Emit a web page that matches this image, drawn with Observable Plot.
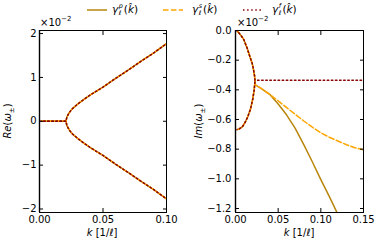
<!DOCTYPE html>
<html><head><meta charset="utf-8">
<script src="https://cdn.jsdelivr.net/npm/d3@7"></script>
<script src="https://cdn.jsdelivr.net/npm/@observablehq/plot@0.6"></script>
<style>
body{margin:0;background:#fff;font-family:"DejaVu Sans",sans-serif;}
#fig{position:relative;width:381px;height:245px;overflow:hidden;background:#fff;}
#fig svg{position:absolute;top:0;}
.abs{position:absolute;white-space:nowrap;font-size:10px;line-height:1;color:#000;}
.ss{display:inline-block;vertical-align:middle;font-size:6.5px;line-height:7px;margin-left:0.5px;margin-right:1px;}
.ss span{display:block;height:7px;}
sup{font-size:7px;vertical-align:5px;line-height:0;}
sub{font-size:7px;vertical-align:-3px;line-height:0;}
</style></head><body><div id="fig"></div>
<script>
// ---- data (values in units of 1e-2) ----
const models = ["p", "s", "f"];
const modelColors = ["#b8860b", "orange", "#8b0000"];
const modelDash = [null, "5.5,2.4", "1.5,2.6"];

// Re(omega): same for all three models
const reK     = [0, 0.01, 0.021, 0.0212, 0.0215, 0.0225, 0.024, 0.026, 0.03, 0.035, 0.04, 0.05, 0.06, 0.07, 0.08, 0.09, 0.1];
const reUpper = [0, 0, 0, 0.05, 0.09, 0.15, 0.22, 0.29, 0.39, 0.50, 0.60, 0.78, 0.98, 1.17, 1.37, 1.56, 1.77];
const reLower = [0, 0, 0, -0.05, -0.09, -0.15, -0.22, -0.29, -0.39, -0.50, -0.60, -0.78, -0.98, -1.17, -1.37, -1.56, -1.77];

// Im(omega): two branches before merging (shared by all models)
const imUpperK = [0, 0.003, 0.006, 0.0098, 0.0137, 0.0165, 0.0195, 0.021, 0.0223, 0.0228];
const imUpper  = [0, -0.01, -0.03, -0.062, -0.12, -0.17, -0.22, -0.26, -0.305, -0.335];
const imLowerK = [0, 0.004, 0.0082, 0.0117, 0.0141, 0.0176, 0.0203, 0.0219, 0.0226, 0.0228];
const imLower  = [-0.67, -0.665, -0.648, -0.615, -0.585, -0.53, -0.46, -0.40, -0.36, -0.335];

// Im(omega) after merging, per model
const postKp = [0.0228, 0.03, 0.04, 0.05, 0.06, 0.07, 0.08, 0.09, 0.10, 0.11, 0.12];
const postIp = [-0.365, -0.39, -0.43, -0.495, -0.57, -0.66, -0.77, -0.885, -1.005, -1.12, -1.24];
const postKs = [0.0228, 0.03, 0.04, 0.05, 0.06, 0.07, 0.08, 0.09, 0.10, 0.11, 0.12, 0.13, 0.14, 0.15];
const postIs = [-0.365, -0.39, -0.43, -0.475, -0.52, -0.565, -0.61, -0.652, -0.69, -0.72, -0.745, -0.77, -0.79, -0.805];
const postKf = [0.0228, 0.15];
const postIf = [-0.335, -0.335];

const xTicksL = [0, 0.05, 0.1];
const yTicksL = [-2, -1, 0, 1, 2];
const xTicksR = [0, 0.05, 0.1, 0.15];
const yTicksR = [0, -0.2, -0.4, -0.6, -0.8, -1.0, -1.2];

// ---- build tables ----
const reRows = [];
models.forEach(m => {
  reK.forEach((k, i) => reRows.push({m, z: m + "u", k, v: reUpper[i]}));
  reK.forEach((k, i) => reRows.push({m, z: m + "l", k, v: reLower[i]}));
});
const post = {p: [postKp, postIp], s: [postKs, postIs], f: [postKf, postIf]};
const imRows = [];
models.forEach(m => {
  imUpperK.forEach((k, i) => imRows.push({m, z: m + "u", k, v: imUpper[i]}));
  post[m][0].forEach((k, i) => imRows.push({m, z: m + "u", k, v: post[m][1][i]}));
  imLowerK.forEach((k, i) => imRows.push({m, z: m + "l", k, v: imLower[i]}));
});

const style = {fontFamily: "DejaVu Sans", fontSize: "10px", color: "black", background: "transparent", overflow: "visible"};

function lineMarks(rows) {
  return models.map((m, j) => Plot.line(rows.filter(r => r.m === m), {
    x: "k", y: "v", z: "z", stroke: modelColors[j], strokeWidth: 1.5,
    strokeDasharray: modelDash[j], clip: true
  }));
}
function axes(xt, yt, xf, yf, pad) {
  return [
    Plot.axisX({anchor: "bottom", ticks: xt, tickFormat: xf, tickSize: -4, tickPadding: 7, label: null}),
    Plot.axisX({anchor: "top", ticks: xt, tickFormat: () => "", tickSize: -4, label: null}),
    Plot.axisY({anchor: "left", ticks: yt, tickFormat: yf, tickSize: -4, tickPadding: pad, label: null}),
    Plot.axisY({anchor: "right", ticks: yt, tickFormat: () => "", tickSize: -4, label: null})
  ];
}

const left = Plot.plot({
  width: 190, height: 245, marginLeft: 39, marginRight: 24, marginTop: 30, marginBottom: 33,
  style,
  x: {domain: [0, 0.1]},
  y: {domain: [-2.08, 2.07]},
  marks: [
    ...lineMarks(reRows),
    Plot.ruleX([0], {stroke: "#999", strokeWidth: 2}),
    Plot.frame({stroke: "black"}),
    ...axes(xTicksL, yTicksL, d3.format(".2f"), d3.format("d"), 7)
  ]
});
left.style.left = "0px";

const right = Plot.plot({
  width: 191, height: 245, marginLeft: 45, marginRight: 18, marginTop: 30, marginBottom: 33,
  style,
  x: {domain: [0, 0.15]},
  y: {domain: [-1.227, 0]},
  marks: [
    ...lineMarks(imRows),
    Plot.ruleX([0], {stroke: "#999", strokeWidth: 2}),
    Plot.frame({stroke: "black"}),
    ...axes(xTicksR, yTicksR, d3.format(".2f"), d3.format(".1f"), 8)
  ]
});
right.style.left = "190px";

const fig = document.getElementById("fig");
fig.append(left, right);

function addHTML(html, css) {
  const d = document.createElement("div");
  d.className = "abs";
  d.innerHTML = html;
  Object.assign(d.style, css);
  fig.append(d);
  return d;
}
// offset texts
addHTML("×10<sup>−2</sup>", {left: "40px", top: "18px"});
addHTML("×10<sup>−2</sup>", {left: "237px", top: "18px"});
// axis labels
addHTML("<i>Re</i>(<i>ω</i><sub>±</sub>)", {left: "8px", top: "121px", transform: "translate(-50%,-50%) rotate(-90deg)"});
addHTML("<i>Im</i>(<i>ω</i><sub>±</sub>)", {left: "199px", top: "121px", transform: "translate(-50%,-50%) rotate(-90deg)"});
addHTML("<i>k</i> [1/<i>ℓ</i>]", {left: "102px", top: "233px", transform: "translate(-50%,-50%)"});
addHTML("<i>k</i> [1/<i>ℓ</i>]", {left: "299px", top: "233px", transform: "translate(-50%,-50%)"});

// legend
const legLineX = [87, 163, 243];
const legTextX = [112, 192, 272];
const legSvg = d3.create("svg").attr("width", 381).attr("height", 20).style("left", "0px");
models.forEach((m, j) => {
  legSvg.append("line").attr("x1", legLineX[j]).attr("x2", legLineX[j] + 20).attr("y1", 10).attr("y2", 10)
    .attr("stroke", modelColors[j]).attr("stroke-width", 1.5)
    .attr("stroke-dasharray", modelDash[j]);
  addHTML(`<i>γ</i><span class="ss"><span><i>${m}</i></span><span><i>ℓ</i></span></span>(<i>k̂</i>)`,
    {left: legTextX[j] + "px", top: "10px", transform: "translateY(-50%)", fontSize: "10.5px"});
});
fig.append(legSvg.node());
</script>
</body></html>
